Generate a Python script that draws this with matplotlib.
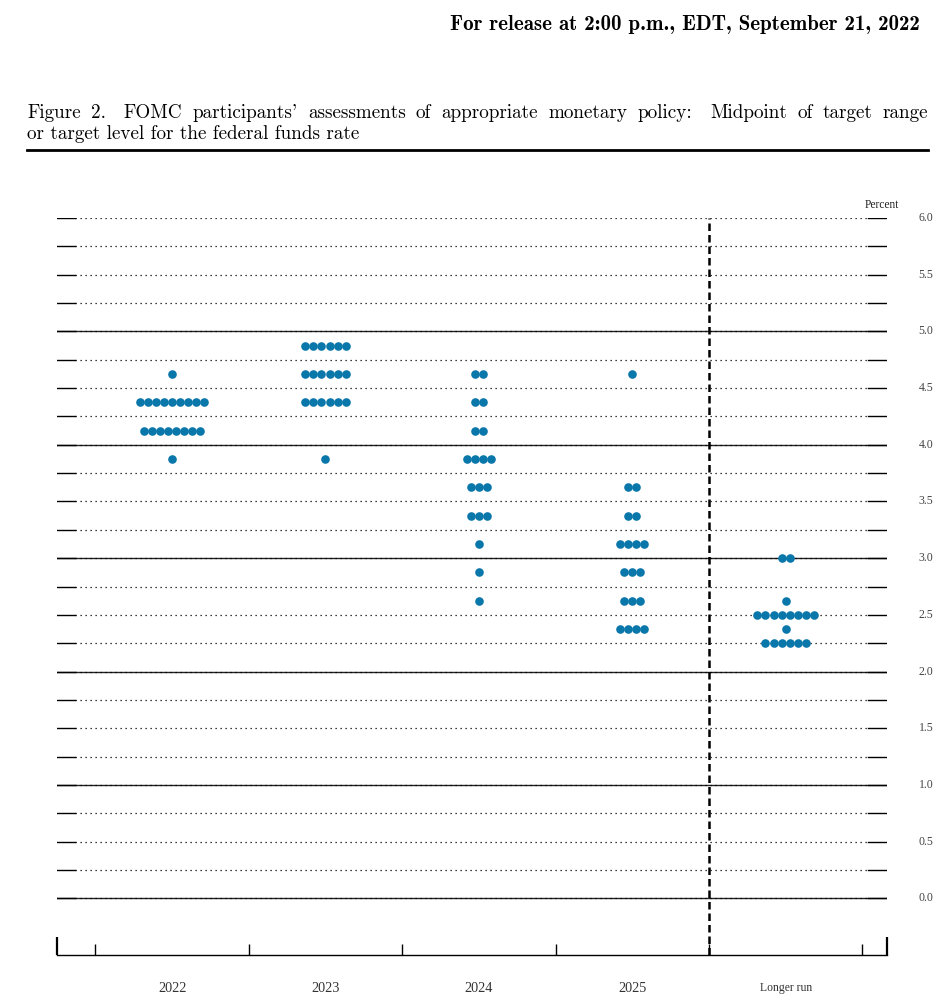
import matplotlib
matplotlib.use("Agg")
import matplotlib.pyplot as plt
import matplotlib.transforms as mtransforms

# dot plot data: midpoint value -> number of participants
categories = ["2022", "2023", "2024", "2025", "Longer run"]
dots_2022 = {4.625: 1, 4.375: 9, 4.125: 8, 3.875: 1}
dots_2023 = {4.875: 6, 4.625: 6, 4.375: 6, 3.875: 1}
dots_2024 = {4.625: 2, 4.375: 2, 4.125: 2, 3.875: 4, 3.625: 3, 3.375: 3,
             3.125: 1, 2.875: 1, 2.625: 1}
dots_2025 = {4.625: 1, 3.625: 2, 3.375: 2, 3.125: 4, 2.875: 3, 2.625: 3,
             2.375: 4}
dots_longer = {3.0: 2, 2.625: 1, 2.5: 8, 2.375: 1, 2.25: 6}
all_dots = [dots_2022, dots_2023, dots_2024, dots_2025, dots_longer]

y_labels = ["0.0", "0.5", "1.0", "1.5", "2.0", "2.5", "3.0", "3.5", "4.0",
            "4.5", "5.0", "5.5", "6.0"]

title_line1 = "Figure 2.  FOMC participants' assessments of appropriate monetary policy:  Midpoint of target range"
title_line2 = "or target level for the federal funds rate"
release = "For release at 2:00 p.m., EDT, September 21, 2022"

dot_color = "#0a77ab"
spacing = 0.0528

fig = plt.figure(figsize=(9.45, 10.08), dpi=100)
ax = fig.add_axes([57 / 945, 1 - 955 / 1008, 830 / 945, 737 / 1008])
ax.set_xlim(-0.75, 4.66)
ax.set_ylim(-0.5, 6.0)

# horizontal grid lines
for k in range(25):
    y = k * 0.25
    if k % 4 == 0 and k < 24:
        ax.axhline(y, color="#222222", lw=1.0, zorder=1)
    ax.axhline(y, xmin=0.022, xmax=0.977, color="black", lw=0.9,
               linestyle=(0, (1, 3)), zorder=1)
    ax.axhline(y, xmin=0, xmax=0.022, color="black", lw=1.0, zorder=1)
    ax.axhline(y, xmin=0.977, xmax=1, color="black", lw=1.0, zorder=1)

# vertical dashed separator before longer run
ax.axvline(3.5, color="black", lw=1.8, linestyle=(0, (3, 1.6)), zorder=2)

# dots
for i, d in enumerate(all_dots):
    for val, n in d.items():
        xs = [i + (j - (n - 1) / 2) * spacing for j in range(n)]
        ax.plot(xs, [val] * n, "o", color=dot_color, ms=6.2, mec="none", zorder=3)

for s in ["top", "left", "right"]:
    ax.spines[s].set_visible(False)
ax.spines["bottom"].set_linewidth(1.0)
ax.set_yticks([])
ax.set_xticks([-0.5, 0.5, 1.5, 2.5, 3.5, 4.5])
ax.set_xticklabels([])
ax.tick_params(axis="x", which="major", direction="in", length=8, width=1.0)
ax.set_xticks([-0.75, 4.66], minor=True)
ax.tick_params(axis="x", which="minor", direction="in", length=13, width=1.6)

trans_y = mtransforms.blended_transform_factory(ax.transAxes, ax.transData)
for k, lab in enumerate(y_labels):
    ax.text(1.047, k * 0.5, lab, transform=trans_y, ha="center", va="center",
            fontsize=8.5, family="Liberation Serif", color="#444444")
ax.annotate("Percent", (0.994, 6.0), xycoords=trans_y, xytext=(0, 9.5),
            textcoords="offset points", ha="center", va="center",
            fontsize=8.3, family="Liberation Serif", color="#222222")

trans_x = mtransforms.blended_transform_factory(ax.transData, ax.transAxes)
for i, c in enumerate(categories):
    ax.text(i, -0.045, c, transform=trans_x, ha="center", va="center",
            fontsize=8.4 if c == "Longer run" else 10.3,
            family="Liberation Serif", color="#333333")

# header
fig.text(920 / 945, 1 - 30 / 1008, release, ha="right", va="baseline",
         fontsize=15, family="cmb10")

# title, first line justified between the rule ends
fig.canvas.draw()
renderer = fig.canvas.get_renderer()
x_left, x_right = 27, 928
words = title_line1.split()
arts = [fig.text(0, 1 - 118 / 1008, w, ha="left", va="baseline",
                 fontsize=13.75, family="cmr10") for w in words]
widths = [a.get_window_extent(renderer).width for a in arts]
# wider space after sentence-ending punctuation
weights = [1.8 if w.endswith((".", ":")) else 1.0 for w in words[:-1]]
gap = (x_right - x_left - sum(widths)) / sum(weights)
x = x_left
for a, w, wt in zip(arts, widths, weights + [0]):
    a.set_x(x / 945)
    x += w + gap * wt
fig.text(x_left / 945, 1 - 139 / 1008, title_line2, ha="left", va="baseline",
         fontsize=13.75, family="cmr10")
fig.add_artist(plt.Line2D([27 / 945, 928 / 945], [1 - 150 / 1008, 1 - 150 / 1008],
                          color="black", lw=2.0))

fig.savefig("out.png", dpi=100)
